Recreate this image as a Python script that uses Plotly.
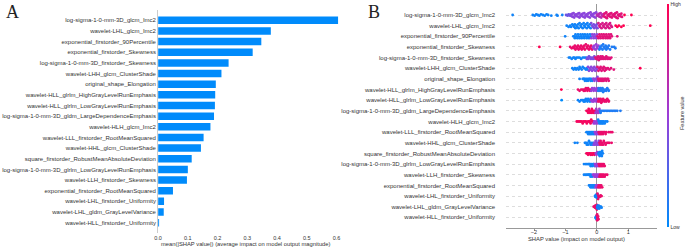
import numpy as np
import plotly.graph_objects as go

# ---------------- data ----------------
features = [
    "log-sigma-1-0-mm-3D_glcm_Imc2",
    "wavelet-LHL_glcm_Imc2",
    "exponential_firstorder_90Percentile",
    "exponential_firstorder_Skewness",
    "log-sigma-1-0-mm-3D_firstorder_Skewness",
    "wavelet-LHH_glcm_ClusterShade",
    "original_shape_Elongation",
    "wavelet-HLL_glrlm_HighGrayLevelRunEmphasis",
    "wavelet-HLL_glrlm_LowGrayLevelRunEmphasis",
    "log-sigma-1-0-mm-3D_gldm_LargeDependenceEmphasis",
    "wavelet-HLH_glcm_Imc2",
    "wavelet-LLL_firstorder_RootMeanSquared",
    "wavelet-HHL_glcm_ClusterShade",
    "square_firstorder_RobustMeanAbsoluteDeviation",
    "log-sigma-1-0-mm-3D_glrlm_LowGrayLevelRunEmphasis",
    "wavelet-LLH_firstorder_Skewness",
    "exponential_firstorder_RootMeanSquared",
    "wavelet-LHL_firstorder_Uniformity",
    "wavelet-LHL_gldm_GrayLevelVariance",
    "wavelet-HLL_firstorder_Uniformity",
]

mean_abs_shap = [0.605, 0.379, 0.347, 0.318, 0.237, 0.213, 0.194, 0.192, 0.191, 0.188,
                 0.176, 0.153, 0.144, 0.113, 0.100, 0.097, 0.050, 0.020, 0.019, 0.002]

bar_ticks = [0.0, 0.1, 0.2, 0.3, 0.4, 0.5, 0.6]
bar_tick_text = ["0.0", "0.1", "0.2", "0.3", "0.4", "0.5", "0.6"]
swarm_ticks = [-2, -1, 0, 1]
swarm_tick_text = ["\u22122", "\u22121", "0", "1"]

# beeswarm rows: groups of (feature value 0..1, SHAP values)
row00 = [(0.05, [-2.68, -2.04, -1.98, -1.93, -1.88, -1.83, -1.78, -1.72, -1.66, -1.6, -1.55, -1.45, -1.28, -1.25, -1.1]),
         (0.35, [-0.98, -0.93, -0.9, -0.87, -0.85]),
         (0.45, [-0.82, -0.8, -0.78, -0.76, -0.74, -0.72, -0.7, -0.68, -0.66, -0.63, -0.6, -0.58, -0.56, -0.55, -0.52, -0.5,
                 -0.48, -0.46, -0.45, -0.42, -0.4, -0.38, -0.36, -0.35, -0.32, -0.3, -0.28, -0.26, -0.25, -0.22, -0.2,
                 -0.18, -0.16, -0.15, -0.12, -0.1, -0.08, -0.06, -0.05, -0.02]),
         (0.65, [0.0, 0.02, 0.04, 0.06, 0.08, 0.1, 0.12, 0.14, 0.16, 0.18, 0.2]),
         (0.85, [0.22, 0.24, 0.26, 0.28, 0.3, 0.3, 0.32, 0.34, 0.36, 0.38, 0.4, 0.42, 0.44, 0.46, 0.48, 0.5, 0.52, 0.54,
                 0.56, 0.58, 0.6, 0.6, 0.62, 0.64, 0.66, 0.68, 0.7, 0.72, 0.75, 0.78, 0.8]),
         (1.0, [0.88, 1.1])]
row01 = [(0.05, [-0.96, -0.9, -0.85, -0.82, -0.78, -0.75, -0.72, -0.7, -0.68, -0.65, -0.62, -0.6, -0.58, -0.55, -0.52,
                 -0.5, -0.48, -0.45, -0.42, -0.4, -0.38, -0.35, -0.32, -0.3, -0.28, -0.25, -0.22, -0.2]),
         (0.4, [-0.18, -0.15, -0.12, -0.1, -0.08, -0.05, -0.02, 0.0, 0.02]),
         (0.8, [0.05, 0.08, 0.1, 0.12, 0.15, 0.18, 0.2, 0.22, 0.25, 0.28, 0.3, 0.32, 0.35, 0.38, 0.4, 0.42, 0.45, 0.48]),
         (1.0, [0.6, 0.65, 0.7, 0.78, 0.85, 1.7])]
row02 = [(0.05, [-1.01, -0.75, -0.72, -0.7, -0.68, -0.65, -0.62, -0.6, -0.58, -0.55, -0.52, -0.5, -0.48, -0.45, -0.42,
                 -0.4, -0.38, -0.35, -0.32, -0.3, -0.28, -0.25, -0.22, -0.2]),
         (0.45, [-0.18, -0.15, -0.12, -0.1, -0.08, -0.05, -0.02, 0.0]),
         (0.85, [0.02, 0.05, 0.08, 0.1, 0.12, 0.15, 0.18, 0.2, 0.22, 0.25, 0.28, 0.3, 0.32, 0.35, 0.38, 0.4, 0.42, 0.45,
                 0.48, 0.65])]
row03 = [(1.0, [-1.83, -1.17]),
         (0.9, [-0.85, -0.8, -0.75, -0.72, -0.7, -0.68, -0.65, -0.62, -0.6, -0.58, -0.55, -0.52, -0.5, -0.48, -0.45,
                -0.42, -0.4, -0.38, -0.35, -0.32, -0.3, -0.28, -0.25, -0.22, -0.2, -0.18, -0.15]),
         (0.5, [-0.12, -0.1, -0.08, -0.05, -0.02, 0.0, 0.02, 0.05]),
         (0.1, [0.08, 0.1, 0.12, 0.15, 0.18, 0.2, 0.22, 0.25, 0.28, 0.3, 0.32, 0.35, 0.38, 0.42, 0.48, 0.55, 0.59])]
row04 = [(0.05, [-0.89, -0.85, -0.8, -0.75, -0.72, -0.68, -0.65, -0.6, -0.55, -0.5, -0.45, -0.4, -0.35]),
         (0.4, [-0.32, -0.3, -0.28, -0.25, -0.22, -0.2, -0.18, -0.15, -0.12, -0.1, -0.08]),
         (0.85, [-0.05, -0.02, 0.0, 0.02, 0.04, 0.06, 0.08, 0.1, 0.12, 0.14, 0.16, 0.18, 0.2, 0.22, 0.25, 0.28, 0.3,
                 0.32, 0.35, 0.38, 0.42, 0.46])]
row05 = [(0.05, [-0.78, -0.74, -0.7, -0.66, -0.62, -0.58, -0.55, -0.52, -0.48, -0.45, -0.4, -0.35, -0.32, -0.3]),
         (0.45, [-0.28, -0.25, -0.22, -0.2, -0.18, -0.15, -0.12, -0.1, -0.08, -0.05, -0.02, 0.0]),
         (0.85, [0.02, 0.05, 0.08, 0.1, 0.12, 0.15, 0.18, 0.2, 0.22, 0.25, 0.28, 0.3, 0.35, 0.4, 0.45, 0.54]),
         (1.0, [1.38])]
row06 = [(0.05, [-0.55, -0.45, -0.42, -0.4, -0.38, -0.35, -0.32, -0.3, -0.28, -0.25, -0.22, -0.2, -0.18, -0.15]),
         (0.45, [-0.12, -0.1, -0.08, -0.05, -0.02, 0.0, 0.02]),
         (0.85, [0.04, 0.06, 0.08, 0.1, 0.12, 0.14, 0.16, 0.18, 0.2, 0.22, 0.25, 0.28, 0.3, 0.33, 0.36, 0.38])]
row07 = [(1.0, [-1.13]),
         (0.9, [-0.6, -0.55, -0.5, -0.45, -0.42, -0.4, -0.38, -0.35, -0.32, -0.3, -0.28, -0.25, -0.22, -0.2]),
         (0.5, [-0.18, -0.15, -0.12, -0.1, -0.08, -0.05, -0.02, 0.0, 0.02]),
         (0.1, [0.04, 0.06, 0.08, 0.1, 0.12, 0.14, 0.16, 0.18, 0.2, 0.22, 0.25, 0.28, 0.3, 0.33, 0.36, 0.38])]
row08 = [(0.0, [-1.12]),
         (0.05, [-0.6, -0.55, -0.5, -0.45, -0.42, -0.4, -0.38, -0.35, -0.32, -0.3, -0.28, -0.25, -0.22, -0.2]),
         (0.5, [-0.18, -0.15, -0.12, -0.1, -0.08, -0.05, -0.02, 0.0, 0.02]),
         (0.9, [0.04, 0.06, 0.08, 0.1, 0.12, 0.14, 0.16, 0.18, 0.2, 0.22, 0.25, 0.28, 0.3, 0.33, 0.36, 0.38])]
row09 = [(0.95, [-0.33, -0.3, -0.28, -0.26, -0.24, -0.22, -0.2, -0.18, -0.16, -0.14, -0.12, -0.1, -0.08, -0.06]),
         (0.55, [-0.04, -0.02, 0.0, 0.02, 0.04, 0.06, 0.08]),
         (0.1, [0.1, 0.12, 0.15, 0.2, 0.25, 0.3, 0.35, 0.4, 0.45, 0.5, 0.55, 0.6, 0.65, 0.75])]
row10 = [(0.95, [-0.64, -0.6, -0.56, -0.52, -0.48, -0.45, -0.42, -0.38, -0.35, -0.32, -0.28, -0.25, -0.22, -0.2,
                 -0.18, -0.15, -0.12]),
         (0.5, [-0.1, -0.08, -0.05, -0.02, 0.0, 0.02]),
         (0.05, [0.04, 0.06, 0.08, 0.1, 0.12, 0.14, 0.16, 0.18, 0.2, 0.22, 0.25, 0.28, 0.33])]
row11 = [(0.05, [-0.33, -0.3, -0.28, -0.26, -0.24, -0.22, -0.2, -0.18, -0.16, -0.14, -0.12, -0.1, -0.08]),
         (0.5, [-0.06, -0.04, -0.02, 0.0, 0.02, 0.04]),
         (0.9, [0.06, 0.08, 0.1, 0.12, 0.14, 0.16, 0.18, 0.2, 0.22, 0.25, 0.28, 0.3, 0.38, 0.44, 0.49])]
row12 = [(0.05, [-0.7, -0.62, -0.38, -0.35, -0.32, -0.3, -0.28, -0.25, -0.22, -0.2, -0.18, -0.15, -0.12]),
         (0.45, [-0.1, -0.08, -0.06, -0.04, -0.02, 0.0, 0.02, 0.04, 0.06]),
         (0.9, [0.08, 0.1, 0.12, 0.14, 0.16, 0.18, 0.2, 0.22, 0.25, 0.28, 0.32, 0.36, 0.4, 0.47])]
row13 = [(0.95, [-0.33, -0.3, -0.28, -0.25, -0.22, -0.2, -0.18, -0.15, -0.12, -0.1, -0.08, -0.05]),
         (0.5, [-0.03, -0.01, 0.01, 0.03]),
         (0.05, [0.05, 0.07, 0.08, 0.09, 0.1, 0.11, 0.12, 0.13, 0.14, 0.15, 0.16, 0.17, 0.19])]
row14 = [(0.05, [-0.41, -0.36, -0.32, -0.28, -0.25, -0.22, -0.2, -0.18, -0.15, -0.12, -0.1, -0.08]),
         (0.5, [-0.06, -0.04, -0.02, 0.0, 0.02, 0.04]),
         (0.9, [0.06, 0.08, 0.1, 0.12, 0.14, 0.16, 0.18, 0.2, 0.22, 0.25])]
row15 = [(0.05, [-0.41, -0.36, -0.32, -0.28, -0.25, -0.22, -0.2, -0.18, -0.15]),
         (0.5, [-0.12, -0.1, -0.08, -0.06, -0.04, -0.02, 0.0, 0.02, 0.04, 0.06]),
         (0.9, [0.08, 0.1, 0.12, 0.14, 0.16, 0.18, 0.2, 0.22, 0.25, 0.28, 0.33])]
row16 = [(0.05, [-0.25, -0.22, -0.2, -0.18, -0.16, -0.14, -0.12, -0.1, -0.08, -0.06]),
         (0.5, [-0.04, -0.02, 0.0, 0.02]),
         (0.9, [0.04, 0.06, 0.08, 0.1, 0.12, 0.14, 0.17])]
row17 = [(0.05, [-0.06, -0.05, -0.04, -0.03, -0.02, -0.02, -0.01, -0.01, 0.0, 0.0, 0.01, 0.01, 0.02, 0.03]),
         (0.9, [0.02, 0.04, 0.05, 0.06, 0.08, 0.1, 0.12, 0.15])]
row18 = [(0.9, [-0.1, -0.08, -0.06, -0.05, -0.04, -0.03, -0.02, -0.01, 0.0, 0.0, 0.01]),
         (0.05, [0.01, 0.02, 0.03, 0.04, 0.05, 0.06, 0.08, 0.1, 0.13, 0.15])]
row19 = [(0.05, [-0.04, -0.03, -0.02, -0.01, -0.01, 0.0, 0.0]),
         (0.9, [0.0, 0.01, 0.01, 0.02, 0.03, 0.04, 0.05])]

swarm_rows = [row00, row01, row02, row03, row04, row05, row06, row07, row08, row09,
              row10, row11, row12, row13, row14, row15, row16, row17, row18, row19]

# ---------------- style ----------------
BLUE = "#008bfb"
RED = "#ff0051"
FONT = "Liberation Sans"
W, H = 685, 247


def px_x(p):
    return p / W


def px_y(p):
    return 1 - p / H


def swarm_offsets(vals, nbins=22, min_bin=0.04, row_height=0.4):
    """shap-style beeswarm stacking of points that fall in the same x bin"""
    vals = np.asarray(vals, float)
    bw = max((vals.max() - vals.min()) / nbins, min_bin)
    quant = np.round((vals - vals.min()) / bw).astype(int)
    order = np.argsort(quant, kind="stable")
    ys = np.zeros(len(vals))
    layer, last = 0, None
    for ind in order:
        if quant[ind] != last:
            layer = 0
        ys[ind] = np.ceil(layer / 2) * ((layer % 2) * 2 - 1)
        layer += 1
        last = quant[ind]
    ys *= 0.9 * (row_height / np.max(ys + 1))
    return ys


sx, sy, sc = [], [], []
for i, groups in enumerate(swarm_rows):
    vals, cols = [], []
    for fv, shaps in groups:
        vals += shaps
        cols += [fv] * len(shaps)
    offs = swarm_offsets(vals)
    sx += vals
    sy += list(i + offs)
    sc += cols

fig = go.Figure()

# Panel A: bar chart
fig.add_trace(go.Bar(
    x=mean_abs_shap, y=list(range(len(features))), orientation="h",
    marker=dict(color=BLUE, line=dict(width=0)), width=0.7,
    xaxis="x", yaxis="y", hoverinfo="skip",
))

# Panel B: beeswarm
fig.add_trace(go.Scatter(
    x=sx, y=sy, mode="markers", xaxis="x2", yaxis="y2", hoverinfo="skip",
    marker=dict(
        size=2.8, color=sc, cmin=0, cmax=1,
        colorscale=[[0, BLUE], [0.5, "#9b3ed8"], [1, RED]],
        line=dict(width=0),
        showscale=True,
        colorbar=dict(
            x=px_x(666.5), xanchor="left", y=px_y(115.5), yanchor="middle",
            len=(227 - 4) / H, lenmode="fraction", thickness=2, thicknessmode="pixels",
            outlinewidth=0, xpad=0, ypad=0,
            tickvals=[0, 1], ticktext=["Low", "High"], ticks="",
            tickfont=dict(family=FONT, size=5, color="#333"),
        ),
    ),
))

fig.update_layout(
    width=W, height=H,
    margin=dict(l=0, r=0, t=0, b=0),
    paper_bgcolor="white", plot_bgcolor="white",
    showlegend=False,
    xaxis=dict(
        domain=[px_x(155), px_x(345)], range=[0, 0.635], anchor="y",
        tickvals=bar_ticks, ticktext=bar_tick_text, ticks="",
        tickfont=dict(family=FONT, size=5.5, color="#333"),
        showgrid=False, zeroline=False, showline=False,
    ),
    yaxis=dict(
        domain=[px_y(233.3), px_y(9.65)], range=[20, -1], anchor="x",
        tickvals=list(range(len(features))), ticktext=features, ticks="",
        tickfont=dict(family=FONT, size=6, color="#333"),
        showgrid=False, zeroline=False, showline=True, linecolor="#cccccc", linewidth=1,
    ),
    xaxis2=dict(
        domain=[px_x(505), px_x(656.7)], range=[-2.89, 1.91], anchor="y2",
        tickvals=swarm_ticks, ticktext=swarm_tick_text, ticks="outside", ticklen=2, tickcolor="#999",
        ticklabelstandoff=-4,
        tickfont=dict(family=FONT, size=5.5, color="#333"),
        showgrid=False, zeroline=True, zerolinecolor="#999999", zerolinewidth=1,
        showline=True, linecolor="#999999", linewidth=1,
    ),
    yaxis2=dict(
        domain=[px_y(228), px_y(4.35)], range=[20, -1], anchor="x2",
        tickvals=list(range(len(features))), ticktext=features, ticks="",
        ticklabelstandoff=10,
        tickfont=dict(family=FONT, size=6, color="#333"),
        showgrid=True, gridcolor="#dddddd", griddash="dot", gridwidth=1,
        zeroline=False, showline=False,
    ),
    annotations=[
        dict(text="A", x=px_x(0), y=px_y(0), xref="paper", yref="paper", xanchor="left", yanchor="top",
             showarrow=False, font=dict(family="Liberation Serif", size=18, color="#222")),
        dict(text="B", x=px_x(364), y=px_y(0), xref="paper", yref="paper", xanchor="left", yanchor="top",
             showarrow=False, font=dict(family="Liberation Serif", size=18, color="#222")),
        dict(text="mean(|SHAP value|) (average impact on model output magnitude)",
             x=px_x(243), y=px_y(243.5), xref="paper", yref="paper", xanchor="center", yanchor="middle",
             showarrow=False, font=dict(family=FONT, size=5.8, color="#333")),
        dict(text="SHAP value (impact on model output)",
             x=px_x(576), y=px_y(238.5), xref="paper", yref="paper", xanchor="center", yanchor="middle",
             showarrow=False, font=dict(family=FONT, size=5.8, color="#333")),
        dict(text="Feature value", x=px_x(682), y=px_y(113), xref="paper", yref="paper",
             xanchor="center", yanchor="middle", textangle=-90,
             showarrow=False, font=dict(family=FONT, size=5.5, color="#333")),
    ],
)

fig.write_html("out.html", config={"displayModeBar": False},
               post_script="document.body.style.margin='0';document.body.style.overflow='hidden';")
